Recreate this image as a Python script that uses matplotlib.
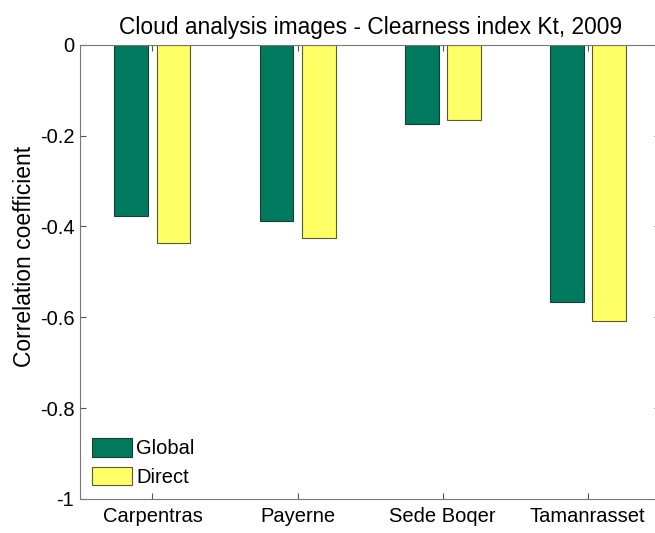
import numpy as np
import matplotlib
matplotlib.use('Agg')
import matplotlib.pyplot as plt

plt.rcParams['font.family'] = ['Liberation Sans', 'DejaVu Sans']

stations = ['Carpentras', 'Payerne', 'Sede Boqer', 'Tamanrasset']
global_corr = [-0.378, -0.389, -0.174, -0.567]
direct_corr = [-0.437, -0.426, -0.165, -0.609]

fig = plt.figure(figsize=(6.55, 5.33), dpi=100)
ax = fig.add_axes([0.122, 0.064, 0.886, 0.852])

x = np.arange(1, len(stations) + 1)
w = 0.234
ax.bar(x - 0.145, global_corr, w, color='#007a5e', edgecolor='#1d3b2e', linewidth=0.8, label='Global')
ax.bar(x + 0.145, direct_corr, w, color='#ffff66', edgecolor='#5a5a2a', linewidth=0.8, label='Direct')

ax.set_xlim(0.5, 4.5)
ax.set_ylim(-1, 0)
ax.set_xticks(x)
ax.set_xticklabels(stations)
ax.set_yticks([-1, -0.8, -0.6, -0.4, -0.2, 0])
ax.set_yticklabels(['-1', '-0.8', '-0.6', '-0.4', '-0.2', '0'])
ax.tick_params(direction='in', length=4, color='#555555', top=True, right=True, labelsize=14.5, pad=4)
ax.tick_params(axis='x', pad=6)
for s in ax.spines.values():
    s.set_color('#777777')

ax.set_ylabel('Correlation coefficient', fontsize=16.5)
ax.yaxis.set_label_coords(-0.076, 0.533)
ax.set_title('Cloud analysis images - Clearness index Kt, 2009', fontsize=16.4, pad=8)

ax.legend(loc='lower left', frameon=False, fontsize=14.5, handlelength=2.0, handleheight=1.05,
          handletextpad=0.2, labelspacing=0.42, borderaxespad=0.2)

fig.savefig('out.png', dpi=100)
